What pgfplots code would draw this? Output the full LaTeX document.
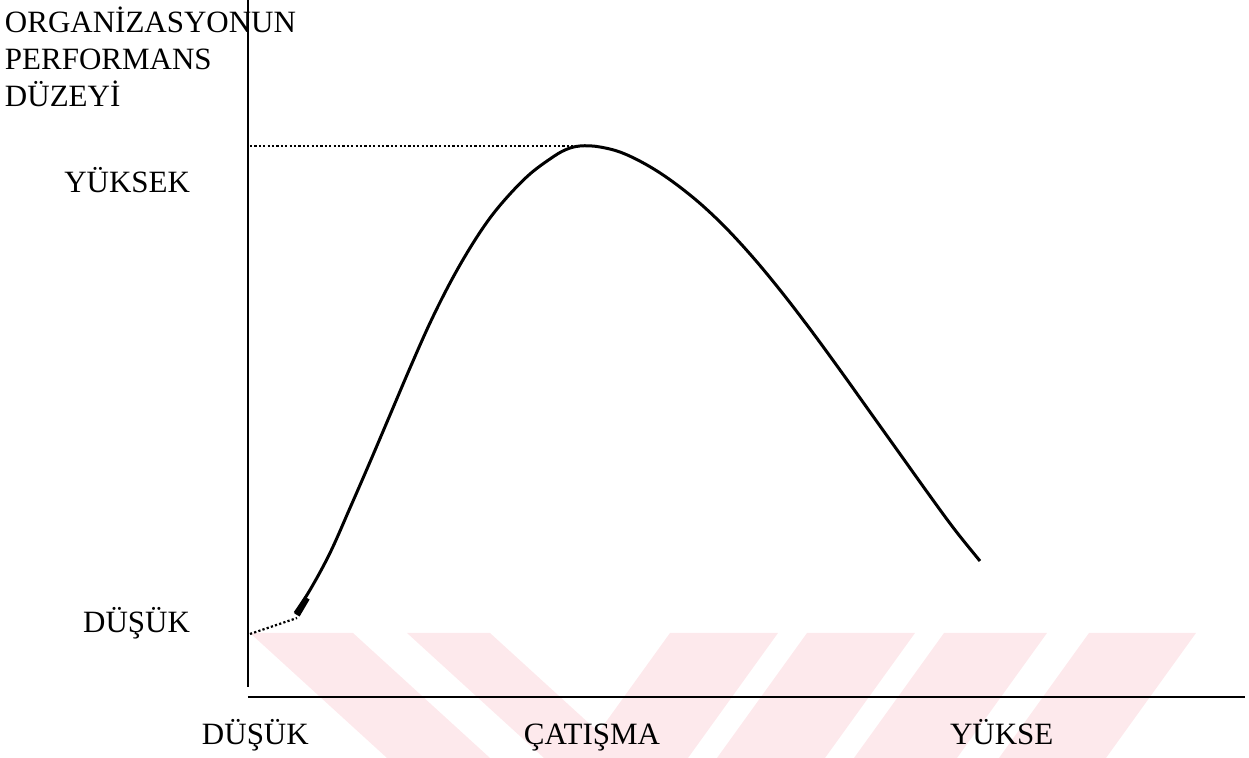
\documentclass[border=0pt]{standalone}
\usepackage{fontspec}
\setmainfont{Liberation Serif}
\usepackage{pgfplots}
\pgfplotsset{compat=1.18}
\definecolor{wm}{RGB}{253,233,236}
\begin{document}
\begin{tikzpicture}[lab/.style={font=\fontsize{15.5}{18}\selectfont, inner sep=0pt, outer sep=0pt}]
\begin{axis}[
  anchor=south west, at={(0,0)},
  scale only axis,
  width=498.5pt, height=348.5pt,
  xmin=248, xmax=1245, ymin=61, ymax=758,
  axis lines=none,
  clip=false,
]
% faint watermark stripes
\addplot[fill=wm, draw=none] coordinates {(250,125) (353,125) (490,0) (387,0)} -- cycle;
\addplot[fill=wm, draw=none] coordinates {(407,125) (490,125) (627,0) (544,0)} -- cycle;
\addplot[fill=wm, draw=none] coordinates {(670,125) (778,125) (688,0) (580,0)} -- cycle;
\addplot[fill=wm, draw=none] coordinates {(807,125) (915,125) (825,0) (717,0)} -- cycle;
\addplot[fill=wm, draw=none] coordinates {(944,125) (1047,125) (957,0) (854,0)} -- cycle;
\addplot[fill=wm, draw=none] coordinates {(1089,125) (1196,125) (1106,0) (999,0)} -- cycle;
% axes
\draw[line width=1.3pt] (axis cs:248,71) -- (axis cs:248,758);
\draw[line width=1.2pt] (axis cs:248,61) -- (axis cs:1245,61);
% dotted guides
\addplot[black, line width=1.1pt, dash pattern=on 1.1pt off 1.1pt] coordinates {(250,612) (578,612)};
\addplot[black, line width=1.1pt, dash pattern=on 1.1pt off 1.1pt] coordinates {(250,124) (297,140)};
% curve
\addplot[black, line width=1.5pt, smooth, tension=0.6] coordinates {
(295,145) (310,168) (330,205) (350,250) (370,296) (390,343) (410,390)
(430,435) (450,475) (470,510) (490,540) (510,564) (530,584) (550,599)
(565,608) (580,612) (600,611) (625,604) (657,587) (690,563) (720,536)
(750,504) (780,468) (810,429) (840,388) (870,346) (900,304) (930,262)
(955,228) (980,197)};
\addplot[black, line width=3pt] coordinates {(297,143) (307,160)};
% labels
\node[lab, anchor=base west] at (axis cs:5,725) {ORGANİZASYONUN};
\node[lab, anchor=base west] at (axis cs:5,688) {PERFORMANS};
\node[lab, anchor=base west] at (axis cs:5,651) {DÜZEYİ};
\node[lab, anchor=base east] at (axis cs:190,565) {YÜKSEK};
\node[lab, anchor=base east] at (axis cs:190,125) {DÜŞÜK};
\node[lab, anchor=base west] at (axis cs:202,13) {DÜŞÜK};
\node[lab, anchor=base west] at (axis cs:524,13) {ÇATIŞMA};
\node[lab, anchor=base west] at (axis cs:950,13) {YÜKSE};
\end{axis}
\pgfresetboundingbox
\path (-124pt,-30.5pt) rectangle (500.5pt,348.5pt);
\end{tikzpicture}
\end{document}
